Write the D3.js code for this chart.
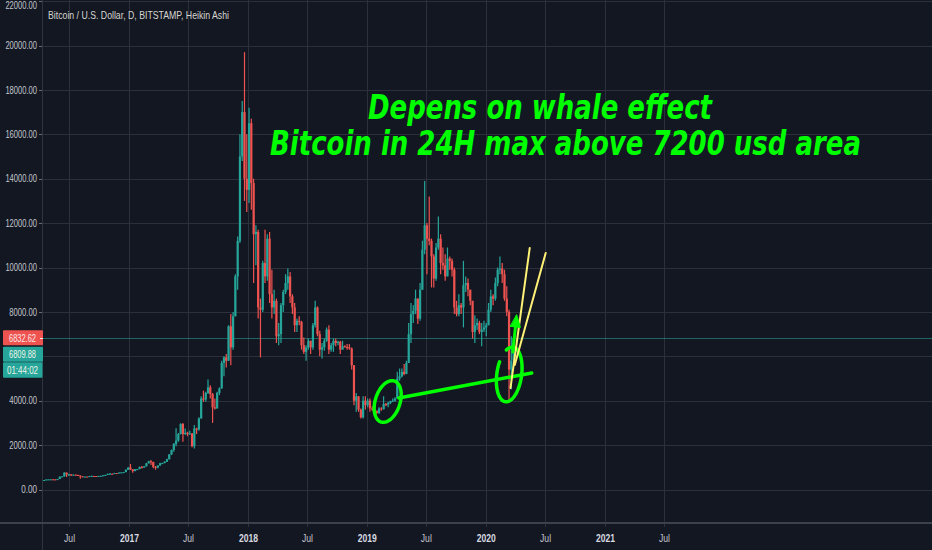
<!DOCTYPE html>
<html><head><meta charset="utf-8">
<script src="https://cdn.jsdelivr.net/npm/d3@7"></script>
<style>html,body{margin:0;padding:0;background:#131722;overflow:hidden}</style>
</head><body><svg id="c" width="932" height="550"></svg>
<script>
// ---- DATA (weekly Heikin-Ashi-like candles) ----
const firstWeek = "2016-04-11";
const opens = [
 420,428,450,455,459,455,442,470,575,590,760,670,680,650,665,655,630,590,570,580,572,605,610,608,600,610,615,640,655,700,710,705,740,735,765,770,785,890,
 990,905,830,915,920,1020,990,1045,1180,1270,1240,1020,980,1080,1180,1190,1250,1360,1580,1780,2050,2200,2500,2950,2500,2550,2500,2520,1950,2750,2700,3200,4100,4050,4350,4600,4300,3700,3650,4350,4550,5700,5950,5800,7350,6400,7800,9600,11200,15000,17000,14000,
 13500,16500,13800,11500,11600,8200,8100,10200,9600,11300,8800,8200,8500,6900,7000,8300,8900,9300,9600,8700,8200,7400,7600,7550,6500,6200,6400,6700,6400,7400,8200,7000,6300,6400,6700,7200,6300,6500,6700,6600,6650,6300,6450,6420,6400,6350,5600,4000,4200,3600,3250,4000,3800,
 4000,3650,3600,3550,3450,3650,3620,3850,3820,3900,3980,4000,4100,5000,5100,5300,5200,5700,7000,7900,8050,8600,7700,9000,10800,11900,11300,11200,10500,9500,10900,11300,10200,10100,9600,10400,10300,9900,8200,7900,8300,8200,9200,9300,9000,8500,7100,7400,7500,7100,7200,7300,
 7400,8100,8700,8600,9300,9900,9950,9700,8600,8000,5400,5800];
const highs = [
 430,452,468,462,462,458,475,585,600,780,770,710,690,680,680,660,630,600,585,585,610,630,612,610,615,620,645,660,720,740,720,750,745,770,775,790,900,1000,
 1150,910,920,925,1030,1060,1050,1200,1290,1330,1250,1060,1090,1210,1200,1270,1380,1600,1800,2100,2760,2550,2980,2990,2750,2600,2650,2550,2900,2780,3250,4200,4450,4400,4950,4700,4350,4100,4400,4600,5800,6000,6100,7400,7900,8000,9700,11400,16000,17500,19700,16000,
 17200,16700,14000,11900,11700,8600,10300,11700,11500,11600,9900,9000,8600,7500,8400,9000,9700,9950,9800,8800,8400,7700,7800,7600,6850,6500,6800,6700,7500,8500,8250,7150,6600,6800,7300,7400,6600,6800,6800,6700,6700,6700,6500,6550,6550,6400,5600,4350,4200,3650,4200,4200,4100,
 4100,3750,3650,3550,3700,3700,4200,3900,3950,4000,4100,4150,5300,5450,5450,5650,5800,7500,8400,8300,9000,8600,9300,11200,13900,12000,13200,11300,10600,11100,12300,11500,10900,10600,10900,10500,10400,10000,8500,8800,8400,10300,9600,9500,9000,8500,7850,7700,7600,7500,7600,7500,
 8400,9000,8800,9550,10000,10500,10200,9900,9150,8100,6900,6900];
const lows = [
 418,427,445,440,448,436,438,470,568,590,560,615,610,640,650,620,480,565,565,570,568,600,600,590,595,605,612,630,650,690,695,700,725,730,755,765,780,880,
 880,750,820,890,915,950,985,1040,1170,1100,960,890,960,1070,1160,1180,1240,1350,1550,1700,1950,2150,2480,2150,2450,2400,2480,1900,1850,2500,2650,3200,3950,3950,4300,4100,3000,3600,3650,4250,4550,5100,5500,5800,5600,6300,7800,9000,11100,14800,13000,12500,
 12900,12600,9300,10100,7700,5950,8000,9300,9400,8400,7700,7900,6600,6500,6600,8000,8800,9000,8400,7900,7100,7100,7400,6300,6100,5800,6300,6100,6300,7300,6900,6000,5900,6250,6650,6100,6200,6200,6450,6500,6100,6300,6400,6300,6300,5400,3800,3500,3500,3200,3200,3600,3700,
 3500,3550,3500,3400,3400,3550,3600,3750,3700,3850,3950,3950,4100,4900,5050,5150,5200,5700,6600,7500,7900,7450,7600,9000,10600,9700,11000,9100,9100,9400,10800,9700,9900,9400,9600,9900,9600,7900,7800,7800,7900,7300,8900,8700,8300,6800,6600,7200,7000,6450,7100,6900,
 7400,8000,8300,8500,9150,9700,9300,8500,7800,3900,4500,5700];
const closes = [
 428,450,455,459,455,442,470,575,590,760,670,680,650,665,655,630,590,570,580,572,605,610,608,600,610,615,640,655,700,710,705,740,735,765,770,785,890,990,
 905,830,915,920,1020,990,1045,1180,1270,1240,1020,980,1080,1180,1190,1250,1360,1580,1780,2050,2200,2500,2950,2500,2550,2500,2520,1950,2750,2700,3200,4100,4050,4350,4600,4300,3700,3650,4350,4550,5700,5950,5800,7350,6400,7800,9600,11200,15000,17000,14000,13500,
 16500,13800,11500,11600,8200,8100,10200,9600,11300,8800,8200,8500,6900,7000,8300,8900,9300,9600,8700,8200,7400,7600,7550,6500,6200,6400,6700,6400,7400,8200,7000,6300,6400,6700,7200,6300,6500,6700,6600,6650,6300,6450,6420,6400,6350,5600,4000,4200,3600,3250,4000,3800,4000,
 3650,3600,3550,3450,3650,3620,3850,3820,3900,3980,4000,4100,5000,5100,5300,5200,5700,7000,7900,8050,8600,7700,9000,10800,11900,11300,11200,10500,9500,10900,11300,10200,10100,9600,10400,10300,9900,8200,7900,8300,8200,9200,9300,9000,8500,7100,7400,7500,7100,7200,7300,7400,
 8100,8700,8600,9300,9900,9950,9700,8600,8000,5400,5800,6810];

const priceTicks = [0,2000,4000,6000,8000,10000,12000,14000,16000,18000,20000,22000];
const timeTicks = [["2016-07-01","Jul"],["2017-01-01","2017"],["2017-07-01","Jul"],["2018-01-01","2018"],["2018-07-01","Jul"],["2019-01-01","2019"],["2019-07-01","Jul"],["2020-01-01","2020"],["2020-07-01","Jul"],["2021-01-01","2021"],["2021-07-01","Jul"]];
const titleText = "Bitcoin / U.S. Dollar, D, BITSTAMP, Heikin Ashi";
const lastPrice = 6832.62;
const bidPrice = "6809.88";
const countdown = "01:44:02";
const noteLines = ["Depens on whale effect", "Bitcoin in 24H max above 7200 usd area"];
// drawings (date, price)
const loopA = {date:"2019-03-06", price:3964, days:38, span:970, tilt:18, from:-80, to:290};
const loopB = {date:"2020-03-13", price:5181, days:38, span:1240, tilt:8, from:240, to:565};
const supportLine = [["2019-04-09",4122],["2020-05-21",5248]];
const yellowA = [["2020-03-17",4573],["2020-05-15",10880]];
const yellowB = [["2020-03-30",5609],["2020-07-03",10655]];
const arrowUp = [["2020-03-24",6194],["2020-04-05",7861]];

// ---- CHART ----
const W = 932, H = 550, plotL = 42, plotB = 523;
const parse = d3.utcParse("%Y-%m-%d");
const x = d3.scaleUtc().domain([parse("2017-01-01"), parse("2021-01-01")]).range([129, 605]);
const y = d3.scaleLinear().domain([0, 22000]).range([489.5, 1.1]);
const DAY = 864e5;
const UP = "#26a69a", DOWN = "#ef5350", GRID = "#2c303b", GREEN = "#0f0", YEL = "#fff176";
const svg = d3.select("#c");
svg.append("rect").attr("width", W).attr("height", H).attr("fill", "#131722");
svg.append("defs").append("clipPath").attr("id", "plot").append("rect")
  .attr("x", plotL).attr("y", 0).attr("width", W - plotL).attr("height", plotB);

// grid
svg.append("g").selectAll("line").data(timeTicks).join("line")
  .attr("x1", d => Math.round(x(parse(d[0]))) + 0.5).attr("x2", d => Math.round(x(parse(d[0]))) + 0.5)
  .attr("y1", 0).attr("y2", plotB + 4).attr("stroke", GRID).attr("stroke-width", 1);
svg.append("g").selectAll("line").data(priceTicks).join("line")
  .attr("x1", plotL).attr("x2", W)
  .attr("y1", d => Math.round(y(d)) + 0.5).attr("y2", d => Math.round(y(d)) + 0.5)
  .attr("stroke", GRID).attr("stroke-width", 1);

// last price line
svg.append("line").attr("x1", plotL).attr("x2", W)
  .attr("y1", Math.round(y(lastPrice)) + 0.5).attr("y2", Math.round(y(lastPrice)) + 0.5)
  .attr("stroke", "#26a69a").attr("stroke-opacity", 0.55).attr("stroke-width", 1);

// candles
const start = parse(firstWeek);
const candles = opens.map((o, i) => ({
  t: new Date(+start + (i * 7 + 3.5) * DAY), o, h: highs[i], l: lows[i], c: closes[i]
}));
const cg = svg.append("g").attr("clip-path", "url(#plot)");
cg.selectAll("line").data(candles).join("line")
  .attr("x1", d => x(d.t)).attr("x2", d => x(d.t))
  .attr("y1", d => y(d.h)).attr("y2", d => y(d.l))
  .attr("stroke", d => d.c >= d.o ? UP : DOWN).attr("stroke-width", 1.2);
cg.selectAll("rect").data(candles).join("rect")
  .attr("x", d => x(d.t) - 1.1).attr("width", 2.2)
  .attr("y", d => y(Math.max(d.o, d.c)))
  .attr("height", d => Math.max(1, Math.abs(y(d.o) - y(d.c))))
  .attr("fill", d => d.c >= d.o ? UP : DOWN);

// drawings
const P = d => [x(parse(d[0])), y(d[1])];
function loopPath(L) {
  const c = P([L.date, L.price]);
  const rx = x(new Date(+parse(L.date) + L.days * DAY)) - c[0];
  const ry = c[1] - y(L.price + L.span);
  const a = L.tilt * Math.PI / 180, pts = [];
  for (let deg = L.from; deg <= L.to; deg += 4) {
    const t = deg * Math.PI / 180;
    const ex = rx * Math.cos(t), ey = ry * Math.sin(t);
    pts.push([c[0] + ex * Math.cos(a) - ey * Math.sin(a), c[1] + ex * Math.sin(a) + ey * Math.cos(a)]);
  }
  return d3.line().curve(d3.curveCatmullRom)(pts);
}
const dg = svg.append("g").attr("clip-path", "url(#plot)").attr("fill", "none").attr("stroke-linecap", "round");
dg.append("path").attr("d", loopPath(loopA)).attr("stroke", GREEN).attr("stroke-width", 3.5);
dg.append("path").attr("d", loopPath(loopB)).attr("stroke", GREEN).attr("stroke-width", 3.5);
dg.append("path").attr("d", d3.line()(supportLine.map(P))).attr("stroke", GREEN).attr("stroke-width", 3.5);
dg.append("path").attr("d", d3.line()(yellowA.map(P))).attr("stroke", YEL).attr("stroke-width", 2);
dg.append("path").attr("d", d3.line()(yellowB.map(P))).attr("stroke", YEL).attr("stroke-width", 2);
(function () {
  const a = P(arrowUp[0]), b = P(arrowUp[1]);
  const dx = b[0] - a[0], dy = b[1] - a[1], len = Math.hypot(dx, dy);
  const ux = dx / len, uy = dy / len, hl = 12, hw = 5;
  const base = [b[0] - ux * hl, b[1] - uy * hl];
  dg.append("path").attr("d", d3.line()([a, base])).attr("stroke", GREEN).attr("stroke-width", 3);
  dg.append("path").attr("d", d3.line()([b, [base[0] - uy * hw, base[1] + ux * hw], [base[0] + uy * hw, base[1] - ux * hw]]) + "Z")
    .attr("fill", GREEN).attr("stroke", GREEN).attr("stroke-width", 1);
})();

// annotation text (narrow face: smaller font stretched vertically)
const vs = 1.3;
const nt = svg.append("g").attr("fill", GREEN)
  .style("font-family", "'DejaVu Sans', sans-serif").style("font-weight", "bold").style("font-style", "italic").style("font-size", (33 / vs) + "px");
nt.append("text").attr("transform", `translate(368,119) scale(1,${vs})`).attr("textLength", 344).attr("lengthAdjust", "spacingAndGlyphs").text(noteLines[0]);
nt.append("text").attr("transform", `translate(270,155) scale(1,${vs})`).attr("textLength", 591).attr("lengthAdjust", "spacingAndGlyphs").text(noteLines[1]);

// axes frame
svg.append("line").attr("x1", plotL + 0.5).attr("x2", plotL + 0.5).attr("y1", 0).attr("y2", H).attr("stroke", "#2f333e");
svg.append("line").attr("x1", 0).attr("x2", W).attr("y1", plotB).attr("y2", plotB).attr("stroke", "#3d414c").attr("stroke-width", 2);

// price labels on axis (boxes cover the tick labels beneath them)
const ly = y(lastPrice);
const boxTop = ly - 7.5, boxBottom = ly + 40;

// price axis (top label kept just inside the frame)
const pa = svg.append("g").style("font-family", "'Liberation Sans', Arial, sans-serif").style("font-size", "10.5px").attr("fill", "#c3c6ce");
pa.selectAll("line").data(priceTicks).join("line")
  .attr("x1", plotL - 3).attr("x2", plotL).attr("y1", d => Math.round(y(d)) + 0.5).attr("y2", d => Math.round(y(d)) + 0.5)
  .attr("stroke", "#6a6d78");
pa.selectAll("text").data(priceTicks.filter(d => y(d) + 5 < boxTop || y(d) - 5 > boxBottom)).join("text")
  .attr("x", 37).attr("y", d => Math.max(y(d) + 3.7, 9)).attr("text-anchor", "end")
  .attr("textLength", d => d3.format(".2f")(d).length * 3.95).attr("lengthAdjust", "spacingAndGlyphs")
  .text(d => d3.format(".2f")(d));

// time axis
const ta = svg.append("g").style("font-family", "'Liberation Sans', Arial, sans-serif").style("font-size", "10.5px");
ta.selectAll("text").data(timeTicks).join("text")
  .attr("x", d => x(parse(d[0])) + 0.5).attr("y", 542).attr("text-anchor", "middle")
  .attr("fill", d => d[1] === "Jul" ? "#c3c6ce" : "#d8dae0")
  .attr("font-weight", d => d[1] === "Jul" ? "normal" : "bold")
  .attr("textLength", d => d[1] === "Jul" ? 11 : 19).attr("lengthAdjust", "spacingAndGlyphs")
  .text(d => d[1]);

const lb = svg.append("g").style("font-family", "'Liberation Sans', Arial, sans-serif").style("font-size", "10.5px");
lb.append("rect").attr("x", 3).attr("y", ly - 7.5).attr("width", 40).attr("height", 15).attr("rx", 1).attr("fill", DOWN);
lb.append("text").attr("x", 22.5).attr("y", ly + 3.8).attr("text-anchor", "middle").attr("fill", "#fbe9e9")
  .attr("textLength", 27).attr("lengthAdjust", "spacingAndGlyphs").text(d3.format(".2f")(lastPrice));
lb.append("rect").attr("x", 3).attr("y", ly + 9).attr("width", 40).attr("height", 15).attr("rx", 1).attr("fill", UP);
lb.append("text").attr("x", 22.5).attr("y", ly + 20.3).attr("text-anchor", "middle").attr("fill", "#eef3e6")
  .attr("textLength", 27).attr("lengthAdjust", "spacingAndGlyphs").text(bidPrice);
lb.append("rect").attr("x", 3).attr("y", ly + 24.5).attr("width", 39.5).attr("height", 15.5).attr("rx", 1).attr("fill", UP);
lb.append("text").attr("x", 22.5).attr("y", ly + 36).attr("text-anchor", "middle").attr("fill", "#eef3e6")
  .attr("textLength", 31).attr("lengthAdjust", "spacingAndGlyphs").text(countdown);
lb.append("line").attr("x1", 40).attr("x2", 43).attr("y1", Math.round(ly) + 0.5).attr("y2", Math.round(ly) + 0.5).attr("stroke", "#fbe9e9");

// title
svg.append("text").attr("x", 48).attr("y", 19).attr("fill", "#d6d6d0")
  .style("font-family", "'Liberation Sans', Arial, sans-serif").style("font-size", "10.5px")
  .attr("textLength", 181).attr("lengthAdjust", "spacingAndGlyphs").text(titleText);
</script></body></html>
